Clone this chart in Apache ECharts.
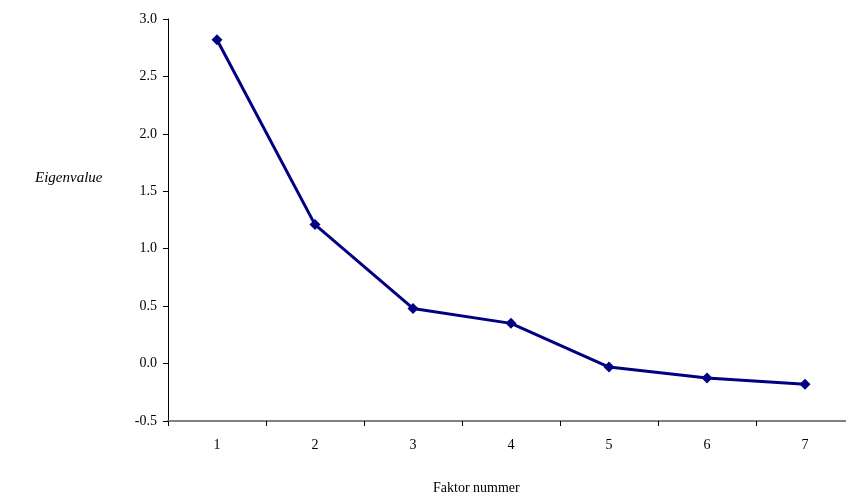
<!DOCTYPE html>
<html>
<head>
<meta charset="utf-8">
<script src="https://cdn.jsdelivr.net/npm/echarts@6/dist/echarts.min.js"></script>
<style>
  html, body { margin: 0; padding: 0; background: #fff; overflow: hidden; }
  #chart { width: 854px; height: 500px; }
</style>
</head>
<body>
<div id="chart"></div>
<script>
  // faktorer og eigenvalues
  var factors = ['1', '2', '3', '4', '5', '6', '7'];
  var eigenvalues = [2.82, 1.21, 0.48, 0.35, -0.03, -0.125, -0.18];
  var yTicks = { min: -0.5, max: 3.0, step: 0.5 };

  var font = 'Liberation Serif';
  var chart = echarts.init(document.getElementById('chart'));
  chart.setOption({
    animation: false,
    backgroundColor: '#fff',
    grid: { left: 168, right: 0, top: 19, bottom: 79 },
    xAxis: {
      type: 'category',
      data: factors,
      boundaryGap: true,
      axisLine: { onZero: false, lineStyle: { color: '#808080', width: 2 } },
      axisTick: { show: true, alignWithLabel: false, length: 5, lineStyle: { color: '#000', width: 1 } },
      axisLabel: { color: '#000', fontFamily: font, fontSize: 14, margin: 17 },
      splitLine: { show: false }
    },
    yAxis: {
      type: 'value',
      min: yTicks.min,
      max: yTicks.max,
      interval: yTicks.step,
      axisLine: { show: true, onZero: false, lineStyle: { color: '#000', width: 1 } },
      axisTick: { show: true, length: 5, lineStyle: { color: '#000' } },
      axisLabel: {
        color: '#000', fontFamily: font, fontSize: 14, margin: 11,
        formatter: function (v) { return v.toFixed(1); }
      },
      splitLine: { show: false }
    },
    graphic: [
      {
        type: 'text', left: 35, top: 171,
        style: { text: 'Eigenvalue', fontFamily: font, fontSize: 15, fontStyle: 'italic', fill: '#000' }
      },
      {
        type: 'text', left: 433, top: 481,
        style: { text: 'Faktor nummer', fontFamily: font, fontSize: 14, fill: '#000' }
      }
    ],
    series: [{
      type: 'line',
      data: eigenvalues,
      symbol: 'diamond',
      symbolSize: 11,
      itemStyle: { color: '#000080' },
      lineStyle: { color: '#000080', width: 3 }
    }]
  });
</script>
</body>
</html>
